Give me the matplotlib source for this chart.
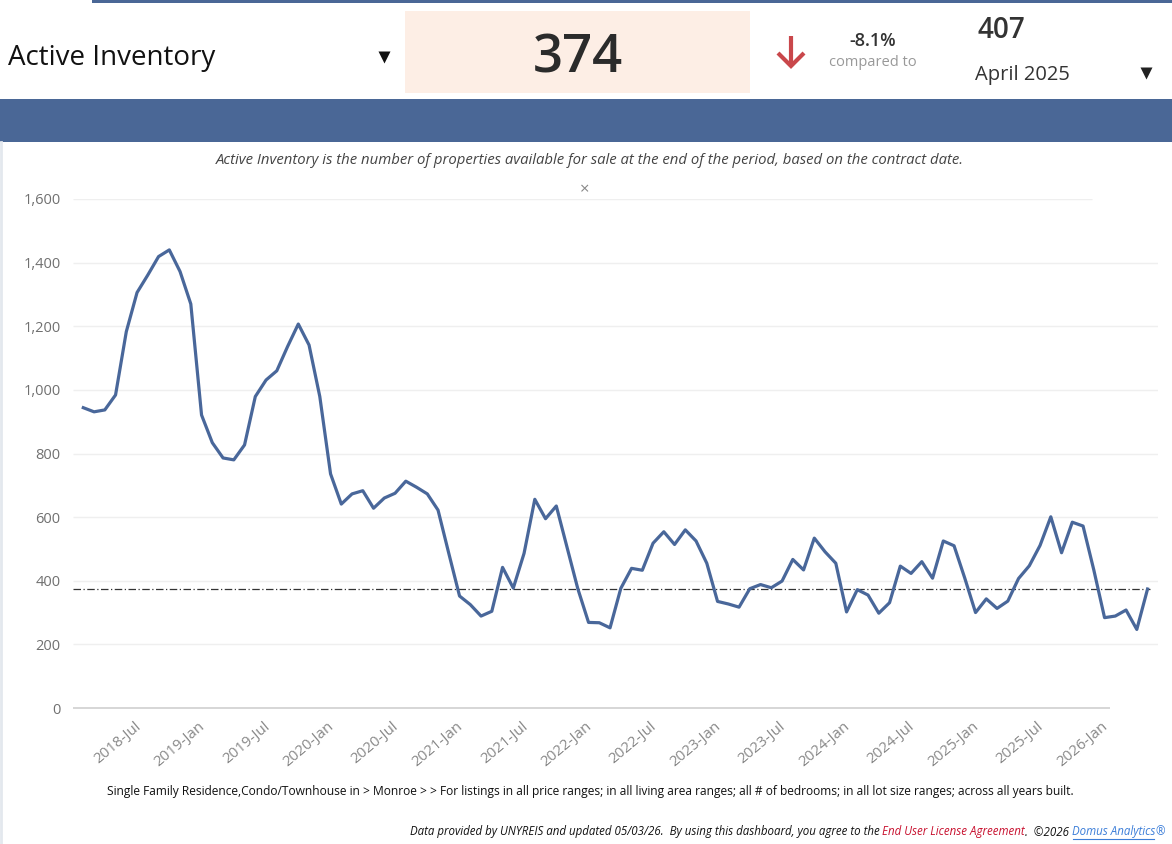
import numpy as np
import matplotlib
matplotlib.use("Agg")
import matplotlib.pyplot as plt
from matplotlib.transforms import offset_copy

# ---------------------------------------------------
# monthly active inventory, Jan 2018 .. Apr 2026
inventory = [
    944, 931, 937, 984, 1183, 1306, 1361, 1419, 1440, 1372, 1270, 921,
    834, 786, 780, 827, 979, 1031, 1060, 1136, 1207, 1141, 979, 736,
    641, 673, 683, 628, 660, 675, 713, 694, 673, 622, 486, 352,
    325, 289, 304, 442, 377, 486, 656, 595, 635, 505, 375, 269,
    268, 252, 376, 439, 433, 518, 554, 514, 560, 525, 455, 335,
    327, 317, 375, 388, 378, 399, 467, 434, 534, 491, 455, 302,
    372, 355, 298, 331, 446, 423, 460, 408, 525, 510, 408, 300,
    343, 313, 336, 407, 447, 511, 601, 488, 584, 572, 434, 284,
    289, 308, 247, 374,
]
tick_months = list(range(6, 100, 6))
tick_labels = ["2018-Jul", "2019-Jan", "2019-Jul", "2020-Jan", "2020-Jul", "2021-Jan",
               "2021-Jul", "2022-Jan", "2022-Jul", "2023-Jan", "2023-Jul", "2024-Jan",
               "2024-Jul", "2025-Jan", "2025-Jul", "2026-Jan"]
y_ticks = [0, 200, 400, 600, 800, 1000, 1200, 1400, 1600]
current_value = 374
prior_value = 407
change_pct = -8.1
# ---------------------------------------------------

W, H = 1172, 844
BLUE = "#4a6796"
LINE = "#49679a"

plt.rcParams['font.family'] = ['Open Sans', 'DejaVu Sans']
fig = plt.figure(figsize=(W / 100, H / 100), dpi=100)

# page decorations in pixel coordinates
bg = fig.add_axes([0, 0, 1, 1])
bg.set_xlim(0, W)
bg.set_ylim(H, 0)
bg.axis('off')

bg.fill_between([92, W], 0, 3, color=BLUE, lw=0)
bg.fill_between([0, W], 99, 142, color=BLUE, lw=0)
bg.plot([1, 1], [142, H], color="#e3e8ee", lw=2)

bg.text(8, 58, "Active Inventory", fontsize=20, color="#111111", va='center', ha='left')
bg.plot(384, 57, marker='v', ms=9, color="#111111", mec='none')
bg.fill_between([405, 750], 11, 93, color="#fdeee5", lw=0)
bg.text(578, 59, f"{current_value}", fontsize=38, fontweight='semibold', color="#2b2b2b",
        ha='center', va='center')
# red down arrow
bg.plot([791, 791], [36, 66], color="#c9474b", lw=3, solid_capstyle='butt')
bg.plot([778, 791, 804], [53, 66, 53], color="#c9474b", lw=3,
        solid_joinstyle='miter', solid_capstyle='butt')
bg.text(873, 41, f"{change_pct}%", fontsize=13, fontweight='semibold', color="#333333",
        ha='center', va='center')
bg.text(873, 63, "compared to", fontsize=10.5, color="#999999", ha='center', va='center')
bg.text(977, 31, f"{prior_value}", fontsize=20, fontweight='semibold', color="#333333",
        ha='left', va='center')
bg.text(975, 75, "April 2025", fontsize=14.5, color="#333333", ha='left', va='center')
bg.plot(1146, 73, marker='v', ms=8, color="#222222", mec='none')

bg.text(590, 160, "Active Inventory is the number of properties available for sale at the end "
        "of the period, based on the contract date.", fontsize=10.7, style='italic',
        color="#444444", ha='center', va='center')
bg.text(585, 190, "\u00d7", fontsize=12, color="#888888", ha='center', va='center')

bg.text(590, 791, "Single Family Residence,Condo/Townhouse in > Monroe > > For listings in all price "
        "ranges; in all living area ranges; all # of bedrooms; in all lot size ranges; across all "
        "years built.", fontsize=8.65, color="#111111", ha='center', va='center')

# footer pieces, laid out left to right
renderer = fig.canvas.get_renderer()
pieces = [
    ("Data provided by UNYREIS and updated 05/03/26.  By using this dashboard, you agree to the ",
     "#111111", False),
    ("End User License Agreement", "#c8102e", False),
    (".  \u00a92026 ", "#111111", False),
    ("Domus Analytics", "#3b7dd8", True),
    ("\u00ae", "#3b7dd8", False),
]
texts = []
for s, c, u in pieces:
    t = bg.text(0, 832, s, fontsize=8.3, style='italic', color=c, ha='left', va='center')
    texts.append((t, u, c))
inv = bg.transData.inverted()
widths = []
for t, u, c in texts:
    bb = t.get_window_extent(renderer)
    x0, _ = inv.transform((bb.x0, bb.y0))
    x1, _ = inv.transform((bb.x1, bb.y0))
    widths.append(x1 - x0)
x = 1165 - sum(widths)
for (t, u, c), w in zip(texts, widths):
    t.set_x(x)
    if u:
        bg.plot([x + 1, x + w - 1], [839, 839], color=c, lw=0.8)
    x += w

# chart
ax = fig.add_axes([73 / W, (H - 708) / H, (1158 - 73) / W, 509 / H])
months = np.arange(len(inventory))
x_left = (73 - 83.3) / 10.75
x_right = (1158 - 83.3) / 10.75
ax.set_xlim(x_left, x_right)
ax.set_ylim(0, 1600)
for s in ax.spines.values():
    s.set_visible(False)

for v in y_ticks[1:]:
    right = (1092 - 83.3) / 10.75 if v == 1600 else x_right
    ax.hlines(v, x_left, right, color="#efefef", lw=1, zorder=0)
ax.hlines(0, x_left, (1110 - 83.3) / 10.75, color="#d0d0d0", lw=1.2, zorder=0, clip_on=False)

ax.hlines(current_value, x_left, (1150 - 83.3) / 10.75, color="#333333", lw=0.9,
          linestyles=(0, (6, 2, 1, 2)), zorder=1)
ax.plot(months, inventory, color=LINE, lw=2.3, solid_joinstyle='round', zorder=2)

ax.set_yticks(y_ticks)
ax.set_yticklabels([f"{v:,}" for v in y_ticks], fontsize=10.5, color="#707070",
                   fontweight='medium')
ax.tick_params(axis='y', length=0, pad=9)
ax.set_xticks([])

lab_tr = offset_copy(ax.get_xaxis_transform(), fig=fig, x=-9, y=-17, units='dots')
for m, lab in zip(tick_months, tick_labels):
    ax.text(m, 0, lab, transform=lab_tr, rotation=40, rotation_mode='anchor',
            ha='right', va='center', fontsize=10.8, color="#888888", clip_on=False)

fig.savefig("out.png", dpi=100)
